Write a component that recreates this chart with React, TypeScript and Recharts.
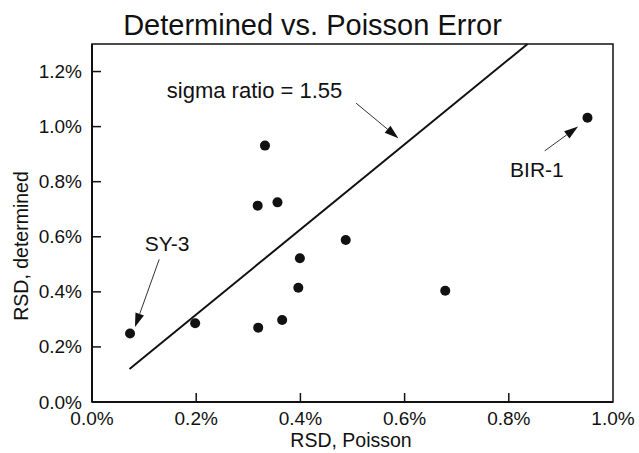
import React from 'react';
import { ScatterChart, Scatter, XAxis, YAxis, ReferenceLine, ReferenceArea, ReferenceDot } from 'recharts';

// RSD values (percent)
const poissonRsd = [0.073, 0.198, 0.319, 0.365, 0.396, 0.399, 0.487, 0.678, 0.318, 0.356, 0.332, 0.951];
const determinedRsd = [0.249, 0.286, 0.270, 0.298, 0.415, 0.522, 0.588, 0.404, 0.713, 0.725, 0.931, 1.032];

const xTicks = [0, 0.2, 0.4, 0.6, 0.8, 1.0];
const yTicks = [0, 0.2, 0.4, 0.6, 0.8, 1.0, 1.2];
const xDomain = [0, 1.0];
const yDomain = [0, 1.3];

// fitted line, sigma ratio = 1.55
const fitX = [0.072, 0.836];
const fitY = [0.12, 1.3];

// annotations: text anchors and arrows (data units)
const noteTexts = ['sigma ratio = 1.55', 'SY-3', 'BIR-1'];
const noteTextX = [0.312, 0.144, 0.854];
const noteTextY = [1.104, 0.549, 0.818];
const arrowFromX = [0.507, 0.129, 0.869];
const arrowFromY = [1.085, 0.518, 0.912];
const arrowToX = [0.588, 0.0825, 0.933];
const arrowToY = [0.958, 0.272, 1.0];

const points = poissonRsd.map((x, i) => ({ x, y: determinedRsd[i] }));

const FONT = '"Liberation Sans", Arial, Helvetica, sans-serif';
const INK = '#111';

const fmt = (v: number) => `${v.toFixed(1)}%`;

const XTick = (props: any) => {
  const { x, y, payload } = props;
  const v = payload.value;
  const inner = v > 0 && v < 1;
  return (
    <g>
      {inner && <line x1={x} y1={y} x2={x} y2={y - 9} stroke={INK} strokeWidth={1.5} />}
      <text x={x} y={y + 23} textAnchor="middle" fontSize={19} fontFamily={FONT} fill={INK}>
        {fmt(v)}
      </text>
    </g>
  );
};

const YTick = (props: any) => {
  const { x, y, payload } = props;
  const v = payload.value;
  return (
    <g>
      {v > 0 && <line x1={x} y1={y} x2={x + 9} y2={y} stroke={INK} strokeWidth={1.5} />}
      <text x={x - 10} y={y + 6.5} textAnchor="end" fontSize={19} fontFamily={FONT} fill={INK}>
        {fmt(v)}
      </text>
    </g>
  );
};

const Arrow = (props: any) => {
  const { x1, y1, x2, y2 } = props;
  const dx = x2 - x1;
  const dy = y2 - y1;
  const len = Math.hypot(dx, dy) || 1;
  const ux = dx / len;
  const uy = dy / len;
  const hl = 14;
  const hw = 4.5;
  const bx = x2 - ux * hl;
  const by = y2 - uy * hl;
  const px = -uy;
  const py = ux;
  return (
    <g>
      <line x1={x1} y1={y1} x2={bx} y2={by} stroke="#333" strokeWidth={1} />
      <polygon points={`${x2},${y2} ${bx + px * hw},${by + py * hw} ${bx - px * hw},${by - py * hw}`} fill={INK} />
    </g>
  );
};

const Dot = (props: any) => <circle cx={props.cx} cy={props.cy} r={5} fill={INK} />;

export default function App() {
  return (
    <div style={{ position: 'absolute', left: 0, top: 0, width: 639, height: 453, background: '#fff' }}>
      <ScatterChart width={639} height={453} margin={{ top: 44, right: 26, bottom: 0, left: 0 }}>
        <XAxis
          type="number"
          dataKey="x"
          domain={xDomain}
          ticks={xTicks}
          interval={0}
          allowDataOverflow
          tick={XTick}
          tickLine={false}
          tickSize={0}
          tickMargin={0}
          height={51}
          axisLine={{ stroke: INK, strokeWidth: 2 }}
        />
        <YAxis
          type="number"
          dataKey="y"
          domain={yDomain}
          ticks={yTicks}
          interval={0}
          allowDataOverflow
          tick={YTick}
          tickLine={false}
          tickSize={0}
          tickMargin={0}
          width={92}
          axisLine={{ stroke: INK, strokeWidth: 2 }}
        />
        <ReferenceArea x1={xDomain[0]} x2={xDomain[1]} y1={yDomain[0]} y2={yDomain[1]} fill="none" stroke={INK} strokeWidth={1.5} />
        <ReferenceLine
          segment={[{ x: fitX[0], y: fitY[0] }, { x: fitX[1], y: fitY[1] }]}
          stroke={INK}
          strokeWidth={2}
          ifOverflow="visible"
        />
        {noteTexts.map((_, i) => (
          <ReferenceLine
            key={`arrow-${i}`}
            segment={[{ x: arrowFromX[i], y: arrowFromY[i] }, { x: arrowToX[i], y: arrowToY[i] }]}
            ifOverflow="visible"
            shape={Arrow}
          />
        ))}
        {noteTexts.map((t, i) => (
          <ReferenceDot
            key={`note-${i}`}
            x={noteTextX[i]}
            y={noteTextY[i]}
            r={0}
            ifOverflow="visible"
            shape={(p: any) => (
              <text x={p.cx} y={p.cy} textAnchor="middle" fontSize={i === 0 ? 22 : 21} fontFamily={FONT} fill={INK}>
                {t}
              </text>
            )}
          />
        ))}
        <Scatter data={points} fill={INK} shape={Dot} isAnimationActive={false} />
      </ScatterChart>
      <svg width={639} height={453} style={{ position: 'absolute', left: 0, top: 0, pointerEvents: 'none' }}>
        <text x={312.5} y={35} textAnchor="middle" fontSize={29} fontFamily={FONT} fill={INK}>
          Determined vs. Poisson Error
        </text>
        <text x={351} y={447} textAnchor="middle" fontSize={19.5} fontFamily={FONT} fill={INK}>
          RSD, Poisson
        </text>
        <text transform="translate(28,246) rotate(-90)" textAnchor="middle" fontSize={19.5} fontFamily={FONT} fill={INK}>
          RSD, determined
        </text>
      </svg>
    </div>
  );
}
